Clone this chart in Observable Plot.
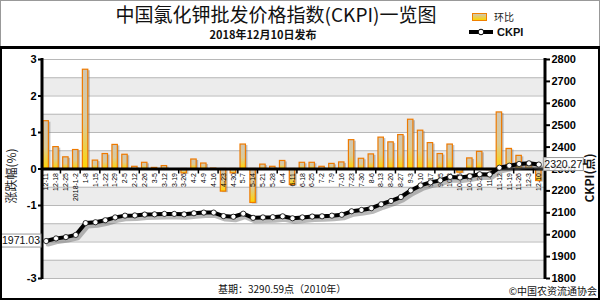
<!DOCTYPE html>
<html><head><meta charset="utf-8">
<script src="https://cdn.jsdelivr.net/npm/d3@7"></script>
<script src="https://cdn.jsdelivr.net/npm/@observablehq/plot@0.6"></script>
<style>
body{margin:0;background:#fff;}
#wrap{position:relative;width:600px;height:300px;overflow:hidden;background:#fff;font-family:"Liberation Sans",Arial,sans-serif;}
#chart{position:absolute;left:0;top:0;}
.topbox{position:absolute;left:0;top:0;width:598px;height:46px;border:1px solid #999;border-bottom:none;}
.frame{position:absolute;left:0;top:46px;width:596px;height:249px;border:2px solid #000;border-top:3px solid #000;pointer-events:none;}
.abs{position:absolute;white-space:nowrap;line-height:1;}
</style>
</head><body>
<div id="wrap">
  <div id="chart"></div>
  <div class="topbox"></div>
  <div class="frame"></div>
  <div class="abs" style="left:0;width:552px;text-align:center;top:4px;font-family:'Noto Sans CJK SC',sans-serif;font-size:19px;line-height:19px;color:#111;">中国氯化钾批发价格指数(CKPI)一览图</div>
  <div class="abs" style="left:0;width:526px;text-align:center;top:29px;font-family:'Noto Sans CJK SC',sans-serif;font-size:11px;line-height:11px;font-weight:bold;color:#111;">2018年12月10日发布</div>
  <div class="abs" style="left:472px;top:13px;width:13px;height:6px;border:1.5px solid #f08000;background:linear-gradient(#cfc6b4,#ffd400);"></div>
  <div class="abs" style="left:494px;top:12px;font-family:'Noto Sans CJK SC',sans-serif;font-size:10px;color:#222;">环比</div>
  <svg class="abs" style="left:468px;top:26px;" width="26" height="12"><line x1="1" y1="6" x2="25" y2="6" stroke="#000" stroke-width="4"/><circle cx="13" cy="6" r="2.8" fill="#fff" stroke="#000" stroke-width="1"/></svg>
  <div class="abs" style="left:497px;top:27px;font-size:11px;font-weight:bold;color:#111;">CKPI</div>
  <div class="abs" style="left:11px;top:176px;transform:translate(-50%,-50%) rotate(-90deg);font-family:'Noto Sans CJK SC',sans-serif;font-size:12px;color:#222;">涨跌幅(%)</div>
  <div class="abs" style="left:589px;top:178px;transform:translate(-50%,-50%) rotate(-90deg);font-family:'Noto Sans CJK SC',sans-serif;font-size:12px;font-weight:bold;color:#111;">CKPI(点)</div>
  <div class="abs" style="left:218px;top:284px;font-family:'Noto Sans CJK SC',sans-serif;font-size:10px;color:#111;">基期：3290.59点（2010年）</div>
  <div class="abs" style="right:3px;top:286px;font-family:'Noto Sans CJK SC',sans-serif;font-size:10px;line-height:10px;color:#111;">©中国农资流通协会</div>
</div>
<script>
const dates = ["12-11","12-18","12-25","2018-1-2","1-8","1-15","1-22","1-29","2-5","2-12","2-26","3-5","3-12","3-19","3-26","4-2","4-9","4-16","4-23","4-30","5-7","5-14","5-21","5-28","6-4","6-11","6-18","6-25","7-2","7-9","7-16","7-23","7-30","8-6","8-13","8-20","8-27","9-3","9-10","9-17","9-25","10-8","10-15","10-22","10-29","11-5","11-12","11-19","11-26","12-3","12-10"];
const changes = [1.31,0.60,0.32,0.52,2.72,0.23,0.41,0.66,0.39,0.06,
  0.17,0.03,0.08,0.0,-0.12,0.26,0.15,0.01,-0.62,-0.12,
  0.67,-0.93,0.12,0.06,0.22,-0.44,0.17,0.17,0.06,0.14,
  0.18,0.79,0.28,0.40,0.86,0.73,0.93,1.35,1.05,0.71,
  0.41,0.67,-0.10,0.29,0.47,-0.03,1.55,0.55,0.36,0.12,
  -0.33];
const ckpi = [1971.03,1983,1989,1999,2053,2057,2066,2079,2087,2088,
  2092,2093,2095,2095,2093,2098,2101,2101,2085,2082,
  2096,2077,2079,2080,2084,2075,2079,2083,2084,2087,
  2091,2107,2113,2121,2139,2154,2172,2202,2225,2239,
  2248,2264,2261,2267,2276,2275,2306,2315,2323,2326,
  2320.27];
const leftTicks = [-3,-2,-1,0,1,2,3];
const rightTicks = [1800,1900,2000,2100,2200,2300,2400,2500,2600,2700,2800];

const toPct = v => (v - 2300) * 0.006;
const fromPct = p => p / 0.006 + 2300;
const table = dates.map((d,i)=>({date:d, pct:changes[i], ckpi:ckpi[i], y:toPct(ckpi[i])}));
const bands = d3.range(-3,3,1).map(a=>({y1:a, y2:a+0.5}));

const plot = Plot.plot({
  width:600, height:300,
  marginLeft:42, marginRight:55, marginTop:59, marginBottom:22,
  x:{type:"band", domain:dates, range:[41,543], paddingInner:0.45, paddingOuter:0.2, axis:null},
  y:{domain:[-3,3], axis:null},
  style:{fontFamily:"Liberation Sans, Arial, sans-serif", background:"transparent", color:"#000"},
  marks:[
    Plot.rect(bands, {y1:"y1", y2:"y2", fill:"#ececec"}),
    Plot.ruleY(d3.range(-3,3.01,0.5), {stroke:"#b8b8b8", strokeWidth:1}),
    Plot.barY(table, {x:"date", y:"pct", fill:"#777", fillOpacity:0.45, dx:2, dy:1}),
    Plot.barY(table, {x:"date", y:"pct", fill:"url(#barGrad)", stroke:"#ee7a00", strokeWidth:1.2}),
    Plot.ruleY([0], {stroke:"#000", strokeWidth:3}),
    Plot.text(table, {x:"date", y:d=>0, text:"date", rotate:-90, textAnchor:"end", lineAnchor:"middle", dy:4, fontSize:7, fill:"#000"}),
    Plot.line(table, {x:"date", y:"y", stroke:"#666", strokeOpacity:0.45, strokeWidth:5, dx:2, dy:3}),
    Plot.line(table, {x:"date", y:"y", stroke:"#000", strokeWidth:4}),
    Plot.dot(table, {x:"date", y:"y", r:2.6, fill:"#fff", stroke:"#000", strokeWidth:0.8}),
    Plot.axisY(leftTicks, {anchor:"left", tickSize:4, tickPadding:2, tickFormat:d=>(d === -2 ? "" : String(d)), fontSize:11, fontWeight:"bold", strokeWidth:2, label:null}),
    Plot.axisY(rightTicks.map(toPct), {anchor:"right", tickSize:4, tickPadding:2, tickFormat:d=>String(Math.round(fromPct(d))), fontSize:11, fontWeight:"bold", strokeWidth:2, label:null})
  ]
});
document.getElementById("chart").appendChild(plot);

const svg = d3.select(plot);
const defs = svg.insert("defs", ":first-child");
const grad = defs.append("linearGradient").attr("id","barGrad").attr("x1",0).attr("y1",0).attr("x2",0).attr("y2",1);
grad.append("stop").attr("offset","0%").attr("stop-color","#cfc6b4");
grad.append("stop").attr("offset","55%").attr("stop-color","#d9cb9c");
grad.append("stop").attr("offset","100%").attr("stop-color","#ffd400");

const xs = plot.scale("x"), ys = plot.scale("y");
const bw = xs.bandwidth;
const step = xs.apply(dates[1]) - xs.apply(dates[0]);
const yTop = ys.apply(3), yBot = ys.apply(-3), y0 = ys.apply(0);
const xL = 42, xR = 600 - 55;
const g = svg.append("g");
g.append("line").attr("x1",xL).attr("x2",xL).attr("y1",yTop-1).attr("y2",yBot+1).attr("stroke","#000").attr("stroke-width",3);
g.append("line").attr("x1",xR).attr("x2",xR).attr("y1",yTop-1).attr("y2",yBot+1).attr("stroke","#000").attr("stroke-width",3);
for (let i = 2; i < dates.length; i += 2) {
  const bx = xs.apply(dates[i]) - (step - bw) / 2;
  g.append("line").attr("x1",bx).attr("x2",bx).attr("y1",y0).attr("y2",y0+5).attr("stroke","#000").attr("stroke-width",1.5);
}
function valueBox(i, side) {
  const cx = xs.apply(dates[i]) + bw/2, cy = ys.apply(toPct(ckpi[i]));
  const w = 40, h = 13;
  const x0 = side === "left" ? xL - w - 1 : cx + 5;
  g.append("rect").attr("x",x0).attr("y",cy-h/2).attr("width",w).attr("height",h).attr("fill","#fff").attr("fill-opacity",0.85).attr("stroke","#999").attr("stroke-width",1);
  g.append("text").attr("x",x0+w/2).attr("y",cy).attr("dy","0.35em").attr("text-anchor","middle").attr("font-size",10.5).attr("fill","#111").text(String(ckpi[i].toFixed(2)));
}
valueBox(0, "left");
valueBox(dates.length-1, "right");
</script>
</body></html>
